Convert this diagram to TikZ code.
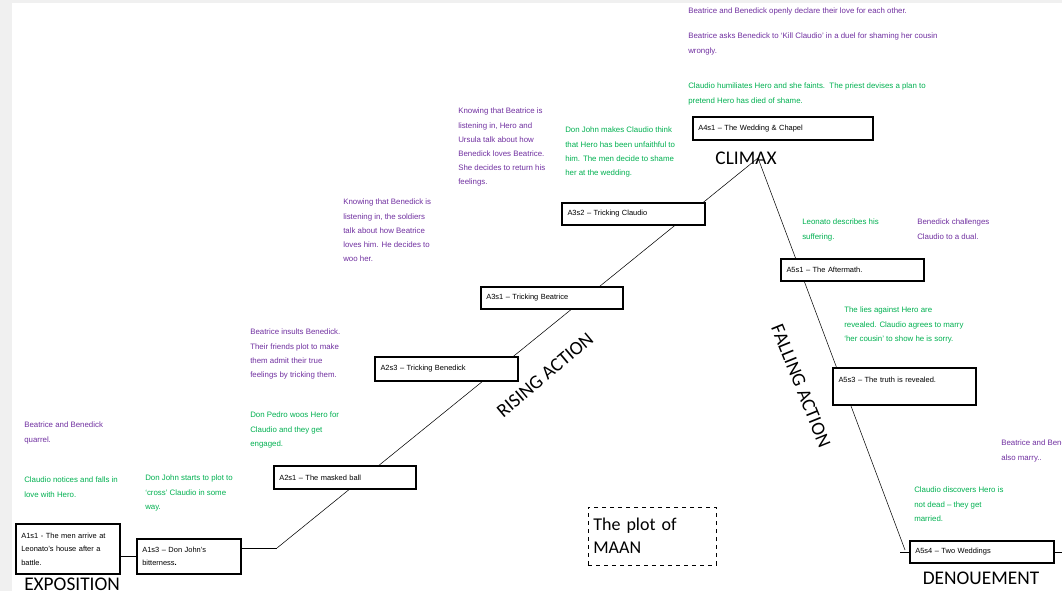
\documentclass[tikz,border=0pt]{standalone}
\usepackage{fontspec}
\setmainfont{Liberation Sans}
\newfontfamily\stagefont{Carlito}
\usetikzlibrary{positioning}
\definecolor{notepurple}{RGB}{112,48,160}
\definecolor{notegreen}{RGB}{0,176,80}
\begin{document}
\begin{tikzpicture}[x=0.75pt,y=-0.75pt]
 \tikzstyle{scenebox} = [draw=black,line width=0.9pt,fill=white,inner sep=4pt,align=left,font=\fontsize{5.6}{10.2}\selectfont];
 \tikzstyle{noteP} = [anchor=north west,inner sep=0pt,align=left,text=notepurple,font=\fontsize{5.9}{10.6}\selectfont];
 \tikzstyle{noteG} = [noteP,text=notegreen];
 \tikzstyle{stage} = [inner sep=0pt,font=\stagefont\fontsize{14.5}{16}\selectfont];
 \tikzstyle{plotline} = [line width=0.4pt];

 \useasboundingbox (0,0) rectangle (1062,591);
 \fill[black!6] (0,0) rectangle (12,591);
 \fill[black!6] (0,0) rectangle (1062,3);

 %% the arc of the plot
 \coordinate (rise) at (277,548);
 \coordinate (peak) at (758,158);
 \coordinate (fall) at (905,550);
 \draw[plotline] (rise) -- (peak) -- (fall);

 %% act 1
 \node[scenebox,minimum width=78pt,minimum height=37.5pt,text width=70pt,name=a1s1] at (68,549)
   {A1s1 - The men arrive at\\Leonato's house after a\\battle.};
 \node[scenebox,minimum width=78pt,minimum height=26.25pt,text width=70pt,name=a1s3] at (189,556.5)
   {A1s3 -- Don John's\\bitterness\textbf{.}};
 %% act 2
 \node[scenebox,minimum width=106.5pt,minimum height=17.25pt,text width=98.5pt,name=a2s1] at (345,477.5)
   {A2s1 -- The masked ball};
 \node[scenebox,minimum width=107.25pt,minimum height=18pt,text width=99pt,name=a2s3] at (446.5,369)
   {A2s3 -- Tricking Benedick};
 %% act 3
 \node[scenebox,minimum width=106.5pt,minimum height=16.5pt,text width=98.5pt,name=a3s1] at (552,298)
   {A3s1 -- Tricking Beatrice};
 \node[scenebox,minimum width=107.25pt,minimum height=16.5pt,text width=99pt,name=a3s2] at (633.5,214)
   {A3s2 -- Tricking Claudio};
 %% act 4
 \node[scenebox,minimum width=135pt,minimum height=17.25pt,text width=127pt,name=a4s1] at (783,128.5)
   {A4s1 -- The Wedding \& Chapel};
 %% act 5
 \node[scenebox,minimum width=107.25pt,minimum height=16.5pt,text width=99pt,name=a5s1] at (852.5,270)
   {A5s1 -- The Aftermath.};
 \node[scenebox,minimum width=107.25pt,minimum height=27.75pt,text width=99pt,name=a5s3] at (904.5,386.5)
   {A5s3 -- The truth is revealed.\\\mbox{}};
 \node[scenebox,minimum width=108pt,minimum height=16.5pt,text width=100pt,name=a5s4] at (982,552)
   {A5s4 -- Two Weddings};
 \coordinate (edge) at (1062,552);
 \coordinate (tick) at (900,552);

 \draw[plotline] (a1s1.east |- a1s3) -- (a1s3.west);
 \draw[plotline] (a1s3.east |- rise) -- (rise);
 \draw[plotline] (tick) -- (a5s4.west);
 \draw[plotline] (a5s4.east) -- (edge);

 %% stages
 \node[stage,anchor=north west] (expo) at (24,578) {EXPOSITION};
 \node[stage] (climax) at (746,158) {CLIMAX};
 \node[stage,rotate=40] (rising) at (545,375) {RISING ACTION};
 \node[stage,rotate=-68] (falling) at (801,386) {FALLING ACTION};
 \node[stage] (denoue) at (981,578) {DENOUEMENT};

 \node[draw,dashed,line width=0.6pt,minimum width=96pt,minimum height=43.5pt,text width=88pt,inner sep=4pt,align=left,
       font=\stagefont\fontsize{13.5}{17}\selectfont,name=title] at (652,536) {The plot of\\MAAN};

 %% notes
 \node[noteP,name=n1] at (688,8) {Beatrice and Benedick openly declare their love for each other.};
 \node[noteP,name=n2] at (688,33) {Beatrice asks Benedick to `Kill Claudio' in a duel for shaming her cousin\\wrongly.};
 \node[noteG,name=n3] at (688,83) {Claudio humiliates Hero and she faints.\ \ The priest devises a plan to\\pretend Hero has died of shame.};
 \node[noteP,name=n4] at (458,108) {Knowing that Beatrice is\\listening in, Hero and\\Ursula talk about how\\Benedick loves Beatrice.\\She decides to return his\\feelings.};
 \node[noteG,name=n5] at (565,127) {Don John makes Claudio think\\that Hero has been unfaithful to\\him. The men decide to shame\\her at the wedding.};
 \node[noteP,name=n6] at (343,199) {Knowing that Benedick is\\listening in, the soldiers\\talk about how Beatrice\\loves him. He decides to\\woo her.};
 \node[noteP,name=n7] at (250,329) {Beatrice insults Benedick.\\Their friends plot to make\\them admit their true\\feelings by tricking them.};
 \node[noteG,name=n8] at (250,412) {Don Pedro woos Hero for\\Claudio and they get\\engaged.};
 \node[noteP,name=n9] at (24,422) {Beatrice and Benedick\\quarrel.};
 \node[noteG,name=n10] at (24,477) {Claudio notices and falls in\\love with Hero.};
 \node[noteG,name=n11] at (145,475) {Don John starts to plot to\\`cross' Claudio in some\\way.};
 \node[noteG,name=n12] at (802,219) {Leonato describes his\\suffering.};
 \node[noteP,name=n13] at (917,219) {Benedick challenges\\Claudio to a dual.};
 \node[noteG,name=n14] at (844,307) {The lies against Hero are\\revealed. Claudio agrees to marry\\`her cousin' to show he is sorry.};
 \node[noteP,name=n15] at (1001,440) {Beatrice and Benedick\\also marry..};
 \node[noteG,name=n16] at (914,487) {Claudio discovers Hero is\\not dead -- they get\\married.};
\end{tikzpicture}
\end{document}
